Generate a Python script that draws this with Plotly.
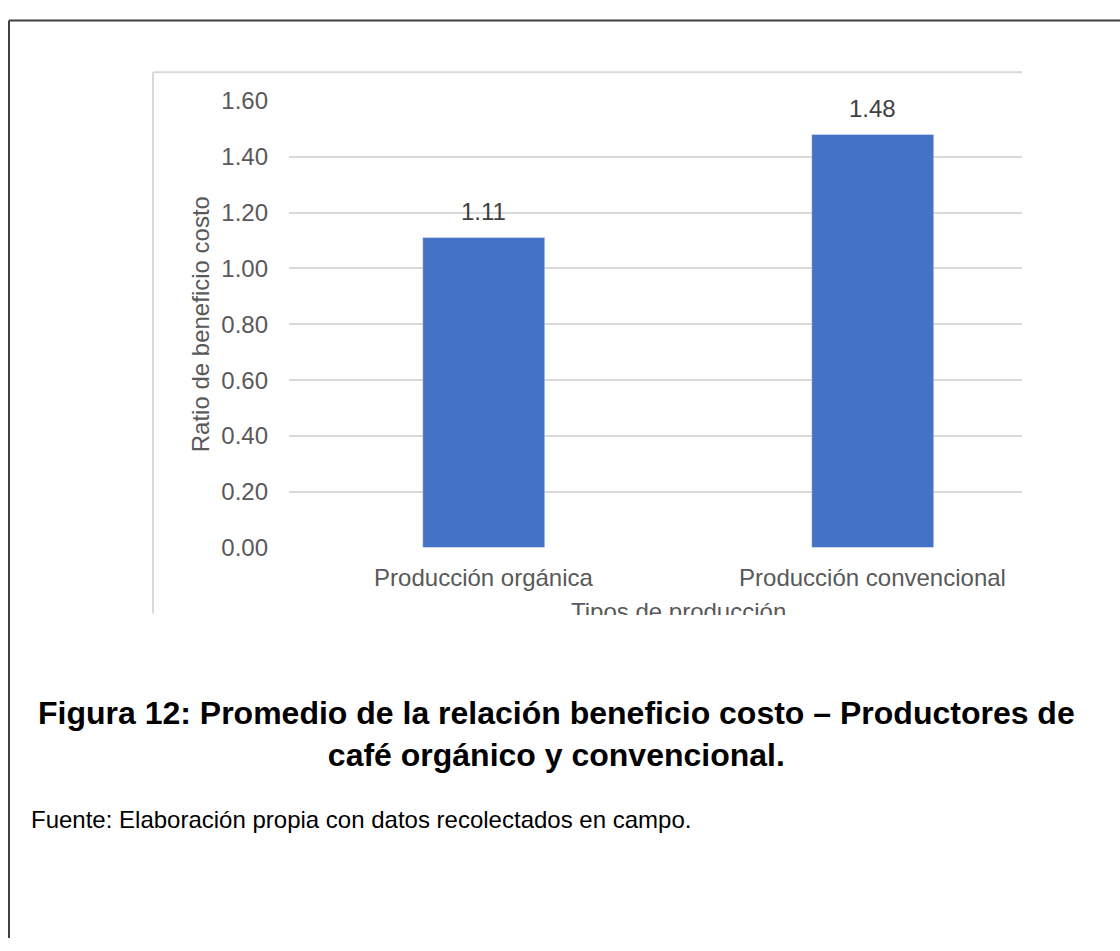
import plotly.graph_objects as go

W, H = 1120, 951

categories = ["Producción orgánica", "Producción convencional"]
values = [1.11, 1.48]
value_labels = ["1.11", "1.48"]
y_ticks = [0.0, 0.2, 0.4, 0.6, 0.8, 1.0, 1.2, 1.4, 1.6]

title_text = ("<b>Figura 12: Promedio de la relación beneficio costo – Productores de"
              "<br>café orgánico y convencional.</b>")
source_text = "Fuente: Elaboración propia con datos recolectados en campo."
y_title = "Ratio de beneficio costo"
x_title = "Tipos de producción"

FONT = "Arial, 'Liberation Sans', sans-serif"
BAR = "#4472C4"
GRID = "#D9D9D9"
TXT = "#595959"


def px(x):
    return x / W


def py(y):
    return 1 - y / H


fig = go.Figure()
fig.add_trace(go.Bar(
    x=categories, y=values, marker_color=BAR, width=0.3136,
    hoverinfo="skip", showlegend=False,
))

# x axis: plot area from 289px, category width 389px, clipped at 1022px
x_left, x_right, cat_w = 289.0, 1022.0, 389.0
fig.update_xaxes(
    domain=[px(x_left), px(x_right)],
    range=[-0.5, -0.5 + (x_right - x_left) / cat_w],
    showgrid=False, zeroline=False, showline=False,
    tickfont=dict(family=FONT, size=24, color=TXT),
    ticks="", ticklabelstandoff=13,
)
fig.update_yaxes(
    domain=[py(549.3), py(89.3)],
    range=[0, 1.6],
    tickvals=y_ticks, tickformat=".2f",
    showgrid=True, gridcolor=GRID, gridwidth=1.5,
    zeroline=False, showline=False,
    tickfont=dict(family=FONT, size=24, color=TXT),
    ticks="", ticklabelstandoff=20,
)

annotations = []
for c, v, t in zip(categories, values, value_labels):
    annotations.append(dict(
        x=c, y=v, xref="x", yref="y", text=t, showarrow=False,
        yanchor="middle", yshift=26,
        font=dict(family=FONT, size=24, color="#404040"),
    ))

annotations.append(dict(
    x=px(200), y=py(319.3), xref="paper", yref="paper", text=y_title,
    textangle=-90, showarrow=False, xanchor="center", yanchor="middle",
    font=dict(family=FONT, size=24, color=TXT),
))
annotations.append(dict(
    x=px(678.5), y=py(600), xref="paper", yref="paper", text=x_title,
    showarrow=False, xanchor="center", yanchor="top", height=17, valign="top",
    borderpad=0,
    font=dict(family=FONT, size=24, color=TXT),
))
annotations.append(dict(
    x=px(556), y=py(741), xref="paper", yref="paper", text=title_text,
    showarrow=False, xanchor="center", yanchor="middle", align="center",
    font=dict(family=FONT, size=32, color="#000000"),
))
annotations.append(dict(
    x=px(29), y=py(829), xref="paper", yref="paper", text=source_text,
    showarrow=False, xanchor="left", yanchor="middle", align="left",
    font=dict(family=FONT, size=24, color="#000000"),
))

shapes = [
    # outer page frame
    dict(type="line", xref="paper", yref="paper", x0=px(9), y0=py(951), x1=px(9), y1=py(6.7),
         line=dict(color="#404040", width=2)),
    dict(type="line", xref="paper", yref="paper", x0=px(9), y0=py(6.7), x1=px(1120), y1=py(6.7),
         line=dict(color="#404040", width=2)),
    # chart box border (cropped)
    dict(type="line", xref="paper", yref="paper", x0=px(153), y0=py(617), x1=px(153), y1=py(60),
         line=dict(color=GRID, width=2)),
    dict(type="line", xref="paper", yref="paper", x0=px(153), y0=py(60), x1=px(1022), y1=py(60),
         line=dict(color=GRID, width=2)),
]

fig.update_layout(
    width=W, height=H,
    margin=dict(l=0, r=0, t=0, b=0),
    paper_bgcolor="white", plot_bgcolor="white",
    annotations=annotations, shapes=shapes,
    bargap=0,
    font=dict(family=FONT),
)

fig.write_html(
    "out.html",
    config={"displayModeBar": False},
    post_script="document.body.style.margin='0';document.body.style.overflow='hidden';",
)
